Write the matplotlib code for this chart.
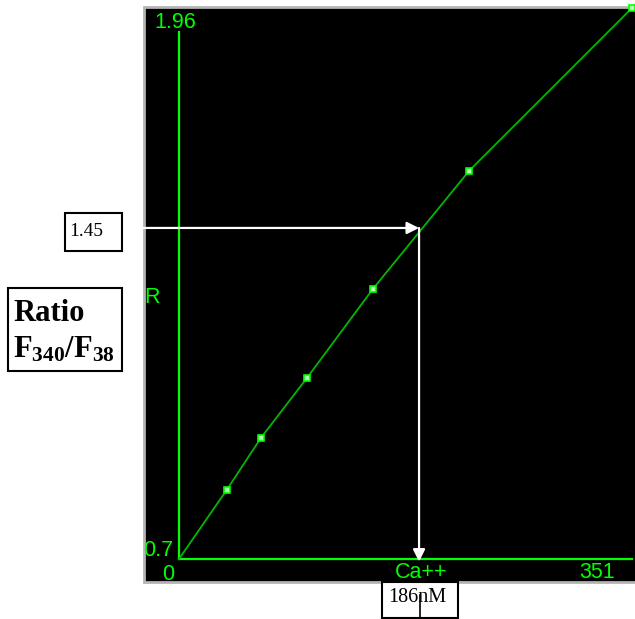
import matplotlib
matplotlib.use('Agg')
import matplotlib.pyplot as plt
from matplotlib.patches import Rectangle
from matplotlib.lines import Line2D
import matplotlib.transforms as mtransforms

plt.rcParams['mathtext.fontset'] = 'custom'
plt.rcParams['mathtext.bf'] = 'Liberation Serif:bold'
plt.rcParams['mathtext.rm'] = 'Liberation Serif'

# calibration curve
ca_nm = [0, 37.0, 63.5, 99.4, 150.1, 224.9, 351]
ratio = [0.70, 0.858, 0.977, 1.115, 1.317, 1.588, 1.96]
marked = [1, 2, 3, 4, 5, 6]   # indices drawn with square markers

x_min, x_max = 0, 351
y_min, y_max = 0.7, 1.96
ratio_read = 1.457   # where the white arrow sits (labelled 1.45)
ca_read = 186

W, H = 635, 619
fig = plt.figure(figsize=(W / 100, H / 100), dpi=100)
fig.patch.set_facecolor('white')


def px(x):
    return x / W


def py(y):
    return 1 - y / H


GREEN = '#00ff00'
LINE_GREEN = '#00b800'

# black instrument panel with grey frame
fig.patches.append(Rectangle((px(144), py(582)), px(W - 144 + 5), (582 - 7) / H,
                             transform=fig.transFigure, facecolor='black',
                             edgecolor='#b4b4b4', linewidth=2, zorder=-2))

ax = fig.add_axes([px(179), py(559), 453 / W, 551 / H])
ax.set_zorder(2)
ax.set_xlim(x_min, x_max)
ax.set_ylim(y_min, y_max)
ax.axis('off')
ax.patch.set_alpha(0)

# axis lines
ax.plot([x_min, x_max], [y_min, y_min], color=GREEN, lw=1.6, clip_on=False)
ax.plot([x_min, x_min], [y_min, 1.905], color=GREEN, lw=1.6, clip_on=False)

# curve and calibration points
ax.plot(ca_nm, ratio, color=LINE_GREEN, lw=1.3, clip_on=False)
ax.plot([ca_nm[i] for i in marked], [ratio[i] for i in marked], 's',
        ms=5, mfc='#b0ffb0', mec=GREEN, mew=1.2, clip_on=False)

# read-off arrows
left_tr = mtransforms.blended_transform_factory(ax.transAxes, ax.transData)
ax.annotate('', xy=(ca_read, ratio_read), xycoords='data',
            xytext=(-36 / 453, ratio_read), textcoords=left_tr,
            arrowprops=dict(arrowstyle='-|>', color='white', lw=1.6,
                            mutation_scale=18, shrinkA=0, shrinkB=0),
            annotation_clip=False)
ax.annotate('', xy=(ca_read, y_min - 0.006), xycoords='data',
            xytext=(ca_read, ratio_read), textcoords='data',
            arrowprops=dict(arrowstyle='-|>', color='white', lw=1.6,
                            mutation_scale=18, shrinkA=0, shrinkB=0),
            annotation_clip=False)

# green panel labels
gkw = dict(color=GREEN, family='Liberation Sans', fontsize=15.5, transform=fig.transFigure)
fig.text(px(175), py(22), '1.96', ha='center', va='center', **gkw)
fig.text(px(158), py(551), '0.7', ha='center', va='center', **gkw)
fig.text(px(168), py(574), '0', ha='center', va='center', **gkw)
fig.text(px(421), py(573), 'Ca++', ha='center', va='center', **gkw)
fig.text(px(597), py(573), '351', ha='center', va='center', **gkw)
fig.text(px(152), py(298), 'R', ha='center', va='center', **gkw)


# boxed annotations outside the panel
def box(x0, y0, x1, y1):
    fig.patches.append(Rectangle((px(x0), py(y1)), px(x1 - x0), (y1 - y0) / H,
                                 transform=fig.transFigure, facecolor='white',
                                 edgecolor='black', linewidth=1.5, zorder=1))


box(65, 213, 122, 251)
fig.text(px(69), py(231), '1.45', family='Liberation Serif', fontsize=14,
         ha='left', va='center')

box(8, 288, 122, 371)
fig.text(px(13), py(321), 'Ratio', family='Liberation Serif', fontsize=22,
         fontweight='bold', ha='left', va='baseline')
fig.text(px(13), py(357), r'$\mathbf{F_{340}/F_{38}}$', fontsize=22,
         ha='left', va='baseline')

box(382, 582, 458, 618)
fig.text(px(388), py(598), '186nM', family='Liberation Serif', fontsize=14.5,
         ha='left', va='center')
fig.lines.append(Line2D([px(420), px(420)], [py(595), py(618)],
                        transform=fig.transFigure, color='black', lw=1.2))

fig.savefig('out.png', dpi=100, facecolor='white')
